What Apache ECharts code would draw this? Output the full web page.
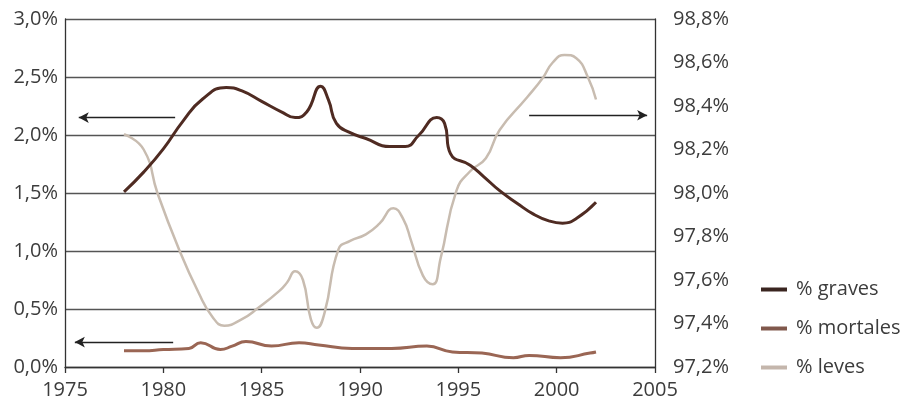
<!DOCTYPE html>
<html>
<head>
<meta charset="utf-8">
<script src="https://cdn.jsdelivr.net/npm/echarts@6/dist/echarts.min.js"></script>
<style>html,body{margin:0;padding:0;background:#fff}#c{width:904px;height:406px}</style>
</head>
<body>
<div id="c"></div>
<script>
// ---- data (year, value) ----
const gravesYears = [1978,1979,1980,1981,1982,1983.2,1984,1985,1986,1986.7,1987.3,1988,1988.4,1988.8,1989.5,1990.3,1991.5,1992.3,1993,1993.9,1994.3,1994.6,1995.6,1996.3,1997.1,1998,1998.8,1999.6,2000.3,2001,2002];
const gravesValues = [1.51,1.68,1.88,2.12,2.31,2.41,2.38,2.29,2.20,2.15,2.20,2.42,2.30,2.10,2.02,1.97,1.90,1.90,2.00,2.15,2.10,1.84,1.74,1.64,1.52,1.41,1.32,1.26,1.24,1.28,1.42];

const mortalesYears = [1978,1979,1980,1981.3,1981.9,1982.9,1983.5,1984.2,1985.5,1986.9,1987.9,1989.6,1991.6,1993.4,1994.7,1996.2,1997.8,1998.6,2000.2,2001.7,2002];
const mortalesValues = [0.14,0.14,0.15,0.16,0.21,0.15,0.18,0.22,0.18,0.21,0.19,0.16,0.16,0.18,0.13,0.12,0.08,0.10,0.08,0.12,0.13];

const levesYears = [1978,1979,1979.7,1980.8,1981.8,1982.5,1983.1,1984,1984.8,1985.9,1986.3,1986.7,1987.1,1987.5,1987.8,1988.2,1988.9,1989.5,1990.3,1991,1991.7,1992.2,1992.6,1993.2,1993.7,1994.1,1994.9,1995.6,1996.4,1997.1,1998.5,1999.3,1999.8,2000.4,2001,2001.6,2002];
const levesValues = [98.27,98.20,98.00,97.74,97.54,97.43,97.39,97.42,97.47,97.55,97.59,97.64,97.60,97.42,97.38,97.45,97.74,97.78,97.81,97.86,97.93,97.88,97.78,97.62,97.58,97.70,98.01,98.10,98.16,98.29,98.44,98.53,98.60,98.635,98.62,98.53,98.43];

const seriesNames = ['% graves', '% mortales', '% leves'];
const xTicks = {min: 1975, max: 2005, interval: 5};
const leftTicks = {min: 0, max: 3, interval: 0.5};
const rightTicks = {min: 97.2, max: 98.8, interval: 0.2};
// arrows: [fromYear, toYear, leftAxisValue]
const arrows = [[1980.6, 1975.7, 2.15], [1980.5, 1975.5, 0.215], [1998.6, 2004.6, 2.17]];

const pair = (xs, ys) => xs.map((x, i) => [x, ys[i]]);
const pct = v => v.toFixed(1).replace('.', ',') + '%';
const FONT = 'Open Sans';
const TXT = '#3c3c3c';

const chart = echarts.init(document.getElementById('c'), null, {renderer: 'canvas'});
chart.setOption({
  animation: false,
  backgroundColor: '#ffffff',
  grid: {left: 65, right: 249, top: 19, bottom: 39, containLabel: false},
  legend: {
    orient: 'vertical', left: 756, top: 273,
    itemWidth: 26, itemHeight: 4, itemGap: 16, icon: 'rect',
    textStyle: {fontFamily: FONT, fontSize: 20, color: TXT, lineHeight: 23, padding: [0,0,0,4]},
    data: [
      {name: seriesNames[0], itemStyle: {color: '#3a2520'}},
      {name: seriesNames[1], itemStyle: {color: '#80584c'}},
      {name: seriesNames[2], itemStyle: {color: '#c4b6ac'}}
    ]
  },
  xAxis: {
    type: 'value', min: xTicks.min, max: xTicks.max, interval: xTicks.interval,
    axisLine: {show: true, lineStyle: {color: '#333', width: 1.3}},
    axisTick: {show: true, length: 6, lineStyle: {color: '#333', width: 1.3}},
    splitLine: {show: false},
    axisLabel: {fontFamily: FONT, fontSize: 20, color: TXT, margin: 13, formatter: v => String(v)}
  },
  yAxis: [{
    type: 'value', position: 'left',
    min: leftTicks.min, max: leftTicks.max, interval: leftTicks.interval,
    axisLine: {show: true, lineStyle: {color: '#333', width: 1.3}},
    axisTick: {show: false},
    splitLine: {show: true, lineStyle: {color: '#555', width: 1.3}},
    axisLabel: {fontFamily: FONT, fontSize: 20, color: TXT, margin: 7, formatter: pct}
  }, {
    type: 'value', position: 'right',
    min: rightTicks.min, max: rightTicks.max, interval: rightTicks.interval,
    axisLine: {show: true, lineStyle: {color: '#333', width: 1.3}},
    axisTick: {show: false},
    splitLine: {show: false},
    axisLabel: {fontFamily: FONT, fontSize: 20, color: TXT, margin: 18, formatter: pct}
  }],
  series: [{
    name: seriesNames[0], type: 'line', yAxisIndex: 0, smooth: 0.5, showSymbol: false,
    data: pair(gravesYears, gravesValues),
    itemStyle: {color: '#4f2b22'},
    lineStyle: {color: '#4f2b22', width: 3},
    markLine: {
      silent: true, symbol: ['none', 'arrow'], symbolSize: [8, 10],
      label: {show: false},
      lineStyle: {color: '#222', width: 1.4, type: 'solid'},
      data: arrows.map(a => [{coord: [a[0], a[2]]}, {coord: [a[1], a[2]]}])
    },
    z: 4
  }, {
    name: seriesNames[1], type: 'line', yAxisIndex: 0, smooth: 0.5, showSymbol: false,
    data: pair(mortalesYears, mortalesValues),
    itemStyle: {color: '#9a6654'},
    lineStyle: {color: '#9a6654', width: 3},
    z: 3
  }, {
    name: seriesNames[2], type: 'line', yAxisIndex: 1, smooth: 0.5, showSymbol: false,
    data: pair(levesYears, levesValues),
    itemStyle: {color: '#c8bcb0'},
    lineStyle: {color: '#c8bcb0', width: 2.5},
    z: 2
  }]
});
</script>
</body>
</html>
